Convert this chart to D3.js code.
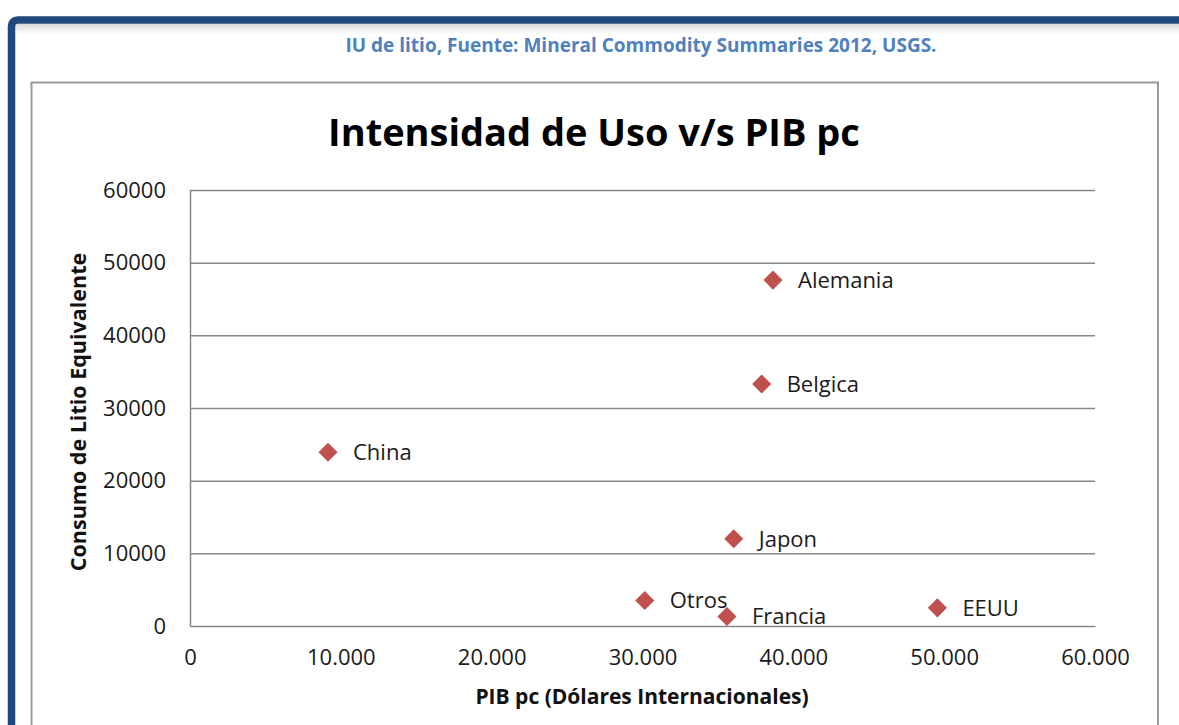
<!DOCTYPE html>
<html>
<head>
<meta charset="utf-8">
<script src="https://cdn.jsdelivr.net/npm/d3@7"></script>
<style>
  html, body { margin: 0; padding: 0; background: #fff; }
  svg { display: block; }
  text { font-family: "Open Sans", "Noto Sans", sans-serif; }
</style>
</head>
<body>
<svg id="chart" width="1179" height="725"></svg>
<script>
// ---- data ----
const countries = ["Alemania", "Belgica", "China", "Japon", "Otros", "Francia", "EEUU"];
const gdpPc     = [38650, 37900, 9150, 36050, 30150, 35600, 49550];
const lithium   = [47600, 33300, 23900, 12000, 3500, 1300, 2500];
const xTicks = [0, 10000, 20000, 30000, 40000, 50000, 60000];
const xTickLabels = ["0", "10.000", "20.000", "30.000", "40.000", "50.000", "60.000"];
const yTicks = [0, 10000, 20000, 30000, 40000, 50000, 60000];
const yTickLabels = ["0", "10000", "20000", "30000", "40000", "50000", "60000"];
const titleText = "Intensidad de Uso v/s PIB pc";
const subtitleText = "IU de litio, Fuente: Mineral Commodity Summaries 2012, USGS.";
const xTitle = "PIB pc (Dólares Internacionales)";
const yTitle = "Consumo de Litio Equivalente";

const svg = d3.select("#chart");

// shadow gradient under top frame bar
const defs = svg.append("defs");
const grad = defs.append("linearGradient").attr("id", "shadow").attr("x1", 0).attr("y1", 0).attr("x2", 0).attr("y2", 1);
grad.append("stop").attr("offset", "0%").attr("stop-color", "#d8d8d8");
grad.append("stop").attr("offset", "100%").attr("stop-color", "#ffffff");

svg.append("rect").attr("x", 0).attr("y", 0).attr("width", 1179).attr("height", 725).attr("fill", "#fff");
svg.append("rect").attr("x", 14).attr("y", 24).attr("width", 1165).attr("height", 10).attr("fill", "url(#shadow)");

// navy frame
svg.append("rect")
  .attr("x", 11.5).attr("y", 20).attr("width", 1300).attr("height", 900)
  .attr("rx", 6).attr("ry", 6)
  .attr("fill", "none").attr("stroke", "#1f497d").attr("stroke-width", 7.5);

// subtitle
svg.append("text")
  .attr("x", 641).attr("y", 52)
  .attr("text-anchor", "middle")
  .attr("font-size", 19).attr("font-weight", "bold")
  .attr("fill", "#4f81bd")
  .text(subtitleText);

// chart box
svg.append("rect")
  .attr("x", 31.5).attr("y", 82.5).attr("width", 1126.5).attr("height", 700)
  .attr("fill", "#fff").attr("stroke", "#9a9a9a").attr("stroke-width", 2);

// title
svg.append("text")
  .attr("x", 594).attr("y", 146)
  .attr("text-anchor", "middle")
  .attr("font-size", 38).attr("font-weight", "bold")
  .attr("fill", "#000")
  .text(titleText);

// scales
const x = d3.scaleLinear().domain([0, 60000]).range([190, 1095]);
const y = d3.scaleLinear().domain([0, 60000]).range([626, 190]);

// gridlines
const gridColor = "#888";
svg.append("g")
  .attr("transform", `translate(190,0)`)
  .call(d3.axisLeft(y).tickValues(yTicks.slice(1)).tickSize(-(1095 - 190)).tickFormat(""))
  .call(g => g.select(".domain").remove())
  .call(g => g.selectAll("line").attr("stroke", gridColor).attr("stroke-width", 1.5));

// y axis
const yAxis = svg.append("g")
  .attr("transform", `translate(190,0)`)
  .call(d3.axisLeft(y).tickValues(yTicks).tickSize(0).tickPadding(24)
    .tickFormat((d, i) => yTickLabels[i]));
yAxis.select(".domain").attr("stroke", gridColor).attr("stroke-width", 1.5);
yAxis.selectAll("text").attr("font-size", 22).attr("fill", "#1a1a1a")
  .attr("font-family", "'Open Sans', sans-serif");

// x axis
const xAxis = svg.append("g")
  .attr("transform", `translate(0,626)`)
  .call(d3.axisBottom(x).tickValues(xTicks).tickSize(0).tickPadding(23)
    .tickFormat((d, i) => xTickLabels[i]));
xAxis.select(".domain").attr("stroke", gridColor).attr("stroke-width", 1.5);
xAxis.selectAll("text").attr("font-size", 22).attr("fill", "#1a1a1a")
  .attr("font-family", "'Open Sans', sans-serif");

// axis titles
svg.append("text")
  .attr("x", 642).attr("y", 704)
  .attr("text-anchor", "middle")
  .attr("font-size", 21).attr("font-weight", "bold").attr("fill", "#111")
  .text(xTitle);

svg.append("text")
  .attr("transform", "translate(86,412) rotate(-90)")
  .attr("text-anchor", "middle")
  .attr("font-size", 21.5).attr("font-weight", "bold").attr("fill", "#111")
  .text(yTitle);

// points
const pts = countries.map((c, i) => ({ name: c, gx: gdpPc[i], ly: lithium[i] }));
const diamond = d3.symbol().type(d3.symbolSquare).size(13.5 * 13.5);
svg.append("g").selectAll("path").data(pts).join("path")
  .attr("d", diamond)
  .attr("transform", d => `translate(${x(d.gx)},${y(d.ly)}) rotate(45)`)
  .attr("fill", "#c0504d");

svg.append("g").selectAll("text").data(pts).join("text")
  .attr("x", d => x(d.gx) + 25)
  .attr("y", d => y(d.ly))
  .attr("dy", "0.36em")
  .attr("font-size", 22).attr("fill", "#1a1a1a")
  .text(d => d.name);
</script>
</body>
</html>
